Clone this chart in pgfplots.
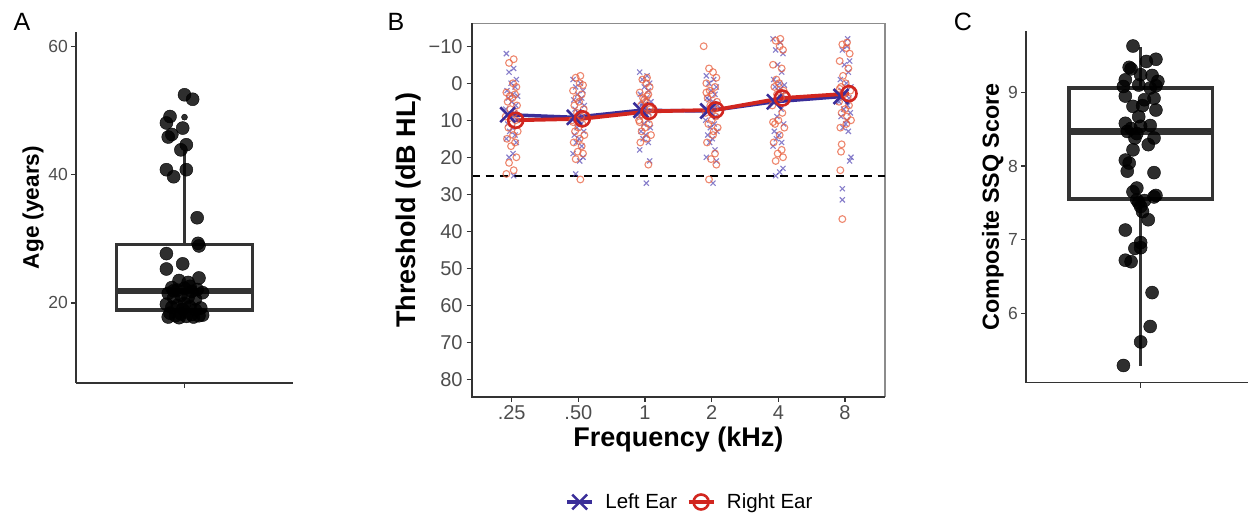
\documentclass[border=0pt]{standalone}
\usepackage{fontspec}
\setmainfont{Liberation Sans}
\usepackage{pgfplots}
\pgfplotsset{compat=1.18}
\usepgfplotslibrary{statistics}

\definecolor{axisdark}{HTML}{333333}
\definecolor{tickgray}{HTML}{4D4D4D}
\definecolor{framegray}{HTML}{8C8C8C}
\definecolor{leftmean}{HTML}{3A2E99}
\definecolor{rightmean}{HTML}{D1261F}
\definecolor{leftpt}{HTML}{5548B5}
\definecolor{rightpt}{HTML}{E8603F}

\pgfplotsset{
  panel/.style={
    scale only axis, anchor=south west,
    tick align=outside, major tick length=5pt,
    tick style={draw=axisdark, line width=1.3pt},
    ticklabel style={text=tickgray},
    yticklabel style={anchor=east, inner sep=0pt, xshift=-3pt},
    xticklabel style={anchor=north, inner sep=0pt, yshift=-4pt},
    ylabel style={anchor=center, font=\bfseries},
    boxplot/draw direction=y,
  },
  jitter/.style={only marks, mark=*, mark size=6.5pt,
    mark options={draw=none, fill=black, fill opacity=0.82}},
}

\begin{document}
\begin{tikzpicture}[x=1pt,y=1pt]
\path[use as bounding box] (0,0) rectangle (1248,514);

\node[font=\fontsize{25}{28}\selectfont] at (22,492) {A};
\node[font=\fontsize{25}{28}\selectfont] at (396,492) {B};
\node[font=\fontsize{25}{28}\selectfont] at (963,492) {C};

% ---- A: age
\begin{axis}[panel,
  at={(76pt,131pt)}, width=217pt, height=351pt,
  xmin=0.4, xmax=1.6, ymin=7.5, ymax=62.3,
  axis x line*=bottom, axis y line*=left,
  axis line style={draw=axisdark, line width=1.6pt, -},
  xtick={1}, xticklabels={{}},
  ytick={20,40,60}, yticklabels={20,40,60},
  ticklabel style={font=\fontsize{17.5}{20}\selectfont},
  ylabel={Age (years)},
  ylabel style={at={(axis description cs:-0.198,0.5)}, font=\fontsize{22.6}{26}\selectfont\bfseries},
  clip=false,
]
\addplot[boxplot prepared={draw position=1, lower whisker=17.7, lower quartile=18.9,
    median=21.9, upper quartile=29.1, upper whisker=43.9, box extend=0.75,
    whisker extend=0, every median/.style={line width=6.5pt}},
  draw=axisdark, line width=3.4pt] coordinates {};
\addplot[jitter] coordinates {
  (1.00,52.5) (1.045,51.8) (0.92,49.1) (0.90,48.1) (0.99,47.3) (0.93,46.3)
  (0.91,45.9) (1.01,44.7) (0.98,43.9) (0.90,40.8) (1.01,40.8) (0.94,39.7)
  (1.07,33.3) (1.08,28.9) (1.075,29.3) (0.90,27.7) (0.99,26.1) (0.90,25.3)
  (1.08,23.9) (0.97,23.5) (1.02,23.2)
  (0.93,22.4) (0.96,22.0) (1.00,22.3) (1.04,21.8) (1.07,22.1) (1.10,21.6)
  (0.91,21.5) (0.98,21.2) (1.02,20.9) (1.06,20.6) (0.94,20.8) (0.94,21.9) (1.03,22.6)
  (0.90,19.8) (0.93,19.3) (0.96,19.6) (0.99,19.0) (1.03,19.4) (1.06,18.9)
  (1.09,19.2) (0.92,18.4) (0.95,18.0) (0.98,18.3) (1.01,17.9) (1.04,18.2)
  (1.08,18.0) (0.91,17.8) (0.97,17.7) (1.05,17.8) (1.10,18.1) (1.00,19.9)
};
\addplot[jitter, mark size=3pt] coordinates {(1.00,49.0)};
\end{axis}

% ---- B: audiogram
\begin{axis}[panel,
  at={(471.7pt,117.3pt)}, width=413.3pt, height=373.4pt,
  xmin=0.4, xmax=6.6, ymin=-16.2, ymax=84.7, y dir=reverse,
  axis line style={draw=framegray, line width=1.1pt},
  xtick={1,2,3,4,5,6}, xticklabels={.25,.50,1,2,4,8},
  ytick={-10,0,10,20,30,40,50,60,70,80},
  yticklabels={−10,0,10,20,30,40,50,60,70,80},
  xtick pos=bottom, ytick pos=left,
  yticklabel style={xshift=-1pt},
  ticklabel style={font=\fontsize{20}{22}\selectfont},
  xlabel={Frequency (kHz)}, ylabel={Threshold (dB HL)},
  xlabel style={at={(axis description cs:0.5,-0.116)}, anchor=center,
    font=\fontsize{27}{30}\selectfont\bfseries},
  ylabel style={at={(axis description cs:-0.154,0.5)},
    font=\fontsize{27}{30}\selectfont\bfseries},
  legend style={at={(axis description cs:0.528,-0.282)}, anchor=center,
    draw=none, fill=none, legend columns=2,
    font=\fontsize{20.5}{24}\selectfont,
    /tikz/every odd column/.append style={column sep=9.5pt},
    /tikz/every even column/.append style={column sep=7.5pt}},
  legend image code/.code={\draw[mark repeat=2, mark phase=2]
    plot coordinates {(0pt,0pt) (12.5pt,0pt) (25pt,0pt)};},
  after end axis/.code={\draw[axisdark, line width=1.6pt]
    (axis description cs:0,1) -- (axis description cs:0,0) -- (axis description cs:1,0);},
]
\addplot[forget plot, black, dashed, line width=1.5pt, dash pattern=on 8pt off 6pt]
  coordinates {(0.4,25) (6.6,25)};
% individual thresholds, left ear
\addplot[forget plot, only marks, mark=x, mark size=3.6pt,
  mark options={draw=leftpt, draw opacity=0.7, line width=1.1pt}] coordinates {
  (0.92,-8) (1.03,-4) (0.96,-3) (1.07,-1) (0.99,0) (1.05,1) (0.93,2) (1.02,3) (1.09,3.5)
  (0.95,4) (1.00,5) (1.06,6) (0.91,7) (1.04,8) (0.98,9) (1.08,10) (0.94,11) (1.01,12)
  (0.97,13) (1.05,14) (0.92,15) (1.07,16) (1.02,19) (0.96,20) (1.03,25)
  (1.92,-1) (2.03,0) (1.96,1) (2.07,2) (1.99,3) (2.05,4) (1.93,4.5) (2.02,5) (2.09,6)
  (1.95,7) (2.00,8) (2.06,9) (1.91,10) (2.04,11) (1.98,12) (2.08,13) (1.94,14) (2.01,15)
  (1.97,16) (2.05,17) (1.92,19) (2.07,20) (2.02,21) (1.96,24.5) (2.03,8.5)
  (2.92,-3) (3.03,-2) (2.96,-1) (3.07,0) (2.99,1) (3.05,2) (2.93,3) (3.02,4) (3.09,5)
  (2.95,6) (3.00,7) (3.06,8) (2.91,9) (3.04,10) (2.98,11) (3.08,12) (2.94,13) (3.01,14)
  (2.97,15) (3.05,16) (2.92,18) (3.07,21) (3.02,27) (2.96,5.5) (3.03,7.5)
  (3.92,-2) (4.03,-1) (3.96,0) (4.07,1) (3.99,2) (4.05,3) (3.93,4) (4.02,5) (4.09,6)
  (3.95,7) (4.00,8) (4.06,9) (3.91,10) (4.04,11) (3.98,12) (4.08,13) (3.94,14) (4.01,15)
  (3.97,16) (4.05,18) (3.92,20) (4.07,21) (4.02,27) (3.96,4.5) (4.03,6.5)
  (4.92,-12) (5.03,-11) (4.96,-9) (5.07,-8) (4.99,-5) (5.05,-3) (4.93,-1) (5.02,0) (5.09,0.5)
  (4.95,1) (5.00,2) (5.06,3) (4.91,5) (5.04,7) (4.98,9) (5.08,11) (4.94,13) (5.01,14)
  (4.97,15) (5.05,16) (4.92,17) (5.07,23) (5.02,24) (4.96,25) (5.03,1.5)
  (6.04,-12) (6.03,-10) (5.96,-9) (6.07,-6) (5.99,-5) (6.05,-3) (5.93,-1) (6.02,0) (6.09,1)
  (5.95,2) (6.00,3) (6.06,4) (5.91,5) (6.04,6) (5.98,7) (6.08,8) (5.94,9) (6.01,11)
  (5.97,12) (6.05,13) (6.09,20) (6.07,21) (5.96,28.5) (5.96,31.5) (6.03,10)
};
% individual thresholds, right ear
\addplot[forget plot, only marks, mark=o, mark size=3.4pt,
  mark options={draw=rightpt, draw opacity=0.75, line width=1.1pt}] coordinates {
  (1.03,-6.5) (0.96,-5.5) (1.02,0) (1.07,1) (0.92,2.5) (1.05,3) (0.97,3.5) (1.01,4) (0.94,5)
  (1.08,6) (0.98,7) (1.04,8) (0.91,9) (1.06,10) (1.00,11) (0.95,12) (1.09,13) (1.02,14)
  (0.93,15) (1.05,16) (0.99,17) (1.07,20) (0.96,21.5) (1.03,23.5) (0.92,24.5)
  (2.03,-2) (1.96,-1.5) (2.02,0) (2.07,0.5) (1.92,2) (2.05,3) (1.97,4) (2.01,5) (1.94,6)
  (2.08,7) (1.98,8) (2.04,9) (1.91,10) (2.06,11) (2.00,12) (1.95,13) (2.09,14) (2.02,15)
  (1.93,16) (2.05,17) (1.99,18.5) (2.07,19) (1.96,20.5) (2.03,26) (1.92,10.5)
  (3.03,-1.5) (2.96,-1) (3.02,0) (3.07,1) (2.92,2.5) (3.05,3) (2.97,4) (3.01,5) (2.94,6)
  (3.08,7) (2.98,8) (3.04,9) (2.91,10) (3.06,11) (3.00,12) (2.95,13) (3.09,14) (3.02,15)
  (2.93,16) (3.05,22) (2.99,4.5) (3.07,6.5) (2.96,8.5) (3.03,3.5) (2.92,10.5)
  (3.88,-10) (3.96,-4) (4.02,-3) (4.07,-1.5) (3.92,0) (4.05,1) (3.97,2) (4.01,3) (3.94,4)
  (4.08,5) (3.98,6) (4.04,7) (3.91,8) (4.06,9) (4.00,10) (3.95,11) (4.09,12) (4.02,14)
  (3.93,16) (4.05,19) (3.99,20.5) (4.07,22) (3.96,26) (4.03,13) (3.92,2.5)
  (5.03,-12) (4.96,-11.5) (5.02,-10) (5.07,-9) (4.92,-5) (5.05,-4) (4.97,-1) (5.01,0) (4.94,1)
  (5.08,2) (4.98,3) (5.04,4) (4.91,6) (5.06,8) (5.00,10) (4.95,11) (5.09,12) (5.02,14)
  (4.93,16) (5.05,18) (4.99,19) (5.07,20) (4.96,21) (5.03,2.5) (4.92,10.5)
  (6.03,-11) (5.96,-10.5) (6.02,-9.5) (6.07,-8) (5.92,-6) (6.05,-4) (5.97,-2) (6.01,0) (5.94,1)
  (6.08,2) (5.98,3) (6.04,4) (5.91,5) (6.06,6) (6.00,7) (5.95,8) (6.09,10) (6.02,11)
  (5.93,12) (5.95,16.5) (5.94,18.5) (5.93,23.5) (5.96,36.7) (6.03,9) (5.92,1.5)
};
% group means
\addplot[leftmean, line width=3.5pt, mark=x, mark size=10.5pt,
  mark options={line width=2.6pt, solid}] coordinates {
  (0.94,8.5) (1.94,9.2) (2.94,7.3) (3.94,7.5) (4.94,5.0) (5.94,3.6)
};
\addlegendentry{Left Ear}
\addplot[rightmean, line width=3.8pt, mark=o, mark size=7.5pt,
  mark options={line width=2.6pt, solid, fill=none}] coordinates {
  (1.06,10.0) (2.06,9.6) (3.06,7.6) (4.06,7.2) (5.06,4.0) (6.06,2.8)
};
\addlegendentry{Right Ear}
\end{axis}

% ---- C: SSQ
\begin{axis}[panel,
  at={(1026pt,131.3pt)}, width=222pt, height=351.4pt,
  xmin=0.4, xmax=1.562, ymin=5.056, ymax=9.83,
  axis x line*=bottom, axis y line*=left,
  axis line style={draw=axisdark, line width=1.6pt, -},
  xtick={1}, xticklabels={{}},
  ytick={6,7,8,9}, yticklabels={6,7,8,9},
  ticklabel style={font=\fontsize{17.5}{20}\selectfont},
  ylabel={Composite SSQ Score},
  ylabel style={at={(axis description cs:-0.149,0.5)}, font=\fontsize{23.3}{26}\selectfont\bfseries},
  clip=false,
]
\addplot[boxplot prepared={draw position=1, lower whisker=5.28, lower quartile=7.55,
    median=8.47, upper quartile=9.06, upper whisker=9.62, box extend=0.75,
    whisker extend=0, every median/.style={line width=6.5pt}},
  draw=axisdark, line width=3.4pt] coordinates {};
\addplot[jitter] coordinates {
  (0.96,9.63) (0.94,9.34) (0.95,9.32) (1.03,9.42) (1.08,9.45) (0.92,9.17) (1.00,9.24)
  (1.06,9.23) (1.09,9.15) (0.91,9.08) (0.99,9.10) (1.05,9.06) (1.08,9.09) (0.92,8.95)
  (1.07,8.92) (1.02,8.90) (0.96,8.81) (1.01,8.82) (1.08,8.76) (0.99,8.67) (0.92,8.58)
  (0.95,8.51) (1.00,8.54) (1.05,8.55) (0.93,8.47) (0.98,8.44) (1.07,8.38) (0.97,8.38)
  (1.04,8.29) (0.96,8.22) (0.92,8.08) (0.94,8.04) (0.93,7.93) (1.07,7.91) (0.98,7.70)
  (0.96,7.65) (1.08,7.60) (1.07,7.58) (0.98,7.54) (1.02,7.53) (1.00,7.45) (0.99,7.50)
  (1.01,7.38) (1.04,7.27) (0.92,7.13) (1.00,6.96) (0.97,6.88) (1.00,6.89) (0.92,6.72)
  (0.95,6.70) (1.06,6.28) (1.05,5.82) (1.00,5.61) (0.91,5.29)
};
\end{axis}
\end{tikzpicture}
\end{document}
